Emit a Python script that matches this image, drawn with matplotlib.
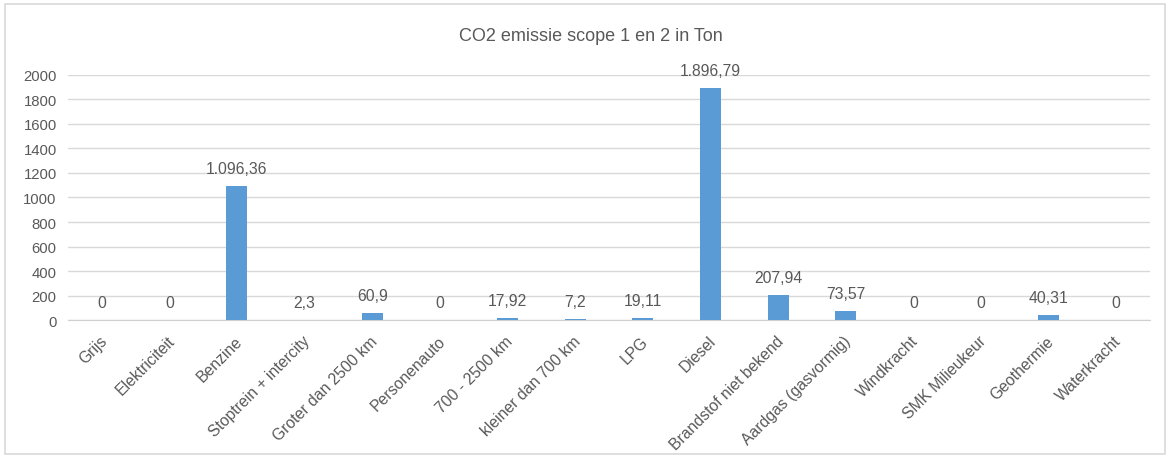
import matplotlib.pyplot as plt
from matplotlib.patches import Rectangle

categories = ['Grijs', 'Elektriciteit', 'Benzine', 'Stoptrein + intercity',
              'Groter dan 2500 km', 'Personenauto', '700 - 2500 km',
              'kleiner dan 700 km', 'LPG', 'Diesel', 'Brandstof niet bekend',
              'Aardgas (gasvormig)', 'Windkracht', 'SMK Milieukeur',
              'Geothermie', 'Waterkracht']
values = [0, 0, 1096.36, 2.3, 60.9, 0, 17.92, 7.2, 19.11, 1896.79, 207.94,
          73.57, 0, 0, 40.31, 0]
yticks = [0, 200, 400, 600, 800, 1000, 1200, 1400, 1600, 1800, 2000]


def nl_format(v):
    # Dutch style: dot for thousands, comma for decimals
    s = f'{v:,.2f}'.rstrip('0').rstrip('.')
    return s.replace(',', 'X').replace('.', ',').replace('X', '.')


plt.rcParams['font.family'] = ['Liberation Sans', 'DejaVu Sans']
grey = '#595959'

fig = plt.figure(figsize=(11.7, 4.6), dpi=100)
fig.patches.append(Rectangle((5 / 1170, 5 / 460), 1160 / 1170, 450 / 460,
                             transform=fig.transFigure, fill=False,
                             edgecolor='#d9d9d9', linewidth=1.2))

ax = fig.add_axes([0.058, 0.302, 0.925, 0.533])
x = range(len(categories))
bars = ax.bar(x, values, width=0.31, color='#5B9BD5', zorder=3)

for b, v in zip(bars, values):
    ax.annotate(nl_format(v), (b.get_x() + b.get_width() / 2, v),
                xytext=(0, 7), textcoords='offset points', ha='center',
                va='bottom', fontsize=11.3, color=grey)

ax.set_xlim(-0.5, len(categories) - 0.5)
ax.set_ylim(0, 2000)
ax.set_yticks(yticks)
ax.set_xticks([])
# category labels, rotated 45 degrees, ending at the category centre
for i, c in zip(x, categories):
    ax.annotate(c, (i, 0), xycoords=('data', 'axes fraction'),
                xytext=(2, -13), textcoords='offset points', rotation=45,
                ha='right', va='center', rotation_mode='anchor',
                fontsize=11.3, color=grey)
ax.tick_params(axis='y', labelsize=10.7, labelcolor=grey, length=0, pad=8)
ax.grid(axis='y', color='#d9d9d9', linewidth=1, zorder=0)
for s in ['top', 'right', 'left']:
    ax.spines[s].set_visible(False)
ax.spines['bottom'].set_color('#d0d0d0')

fig.text(0.505, 0.92, 'CO2 emissie scope 1 en 2 in Ton', ha='center',
         va='center', fontsize=13, color=grey)

fig.savefig('out.png', dpi=100)
